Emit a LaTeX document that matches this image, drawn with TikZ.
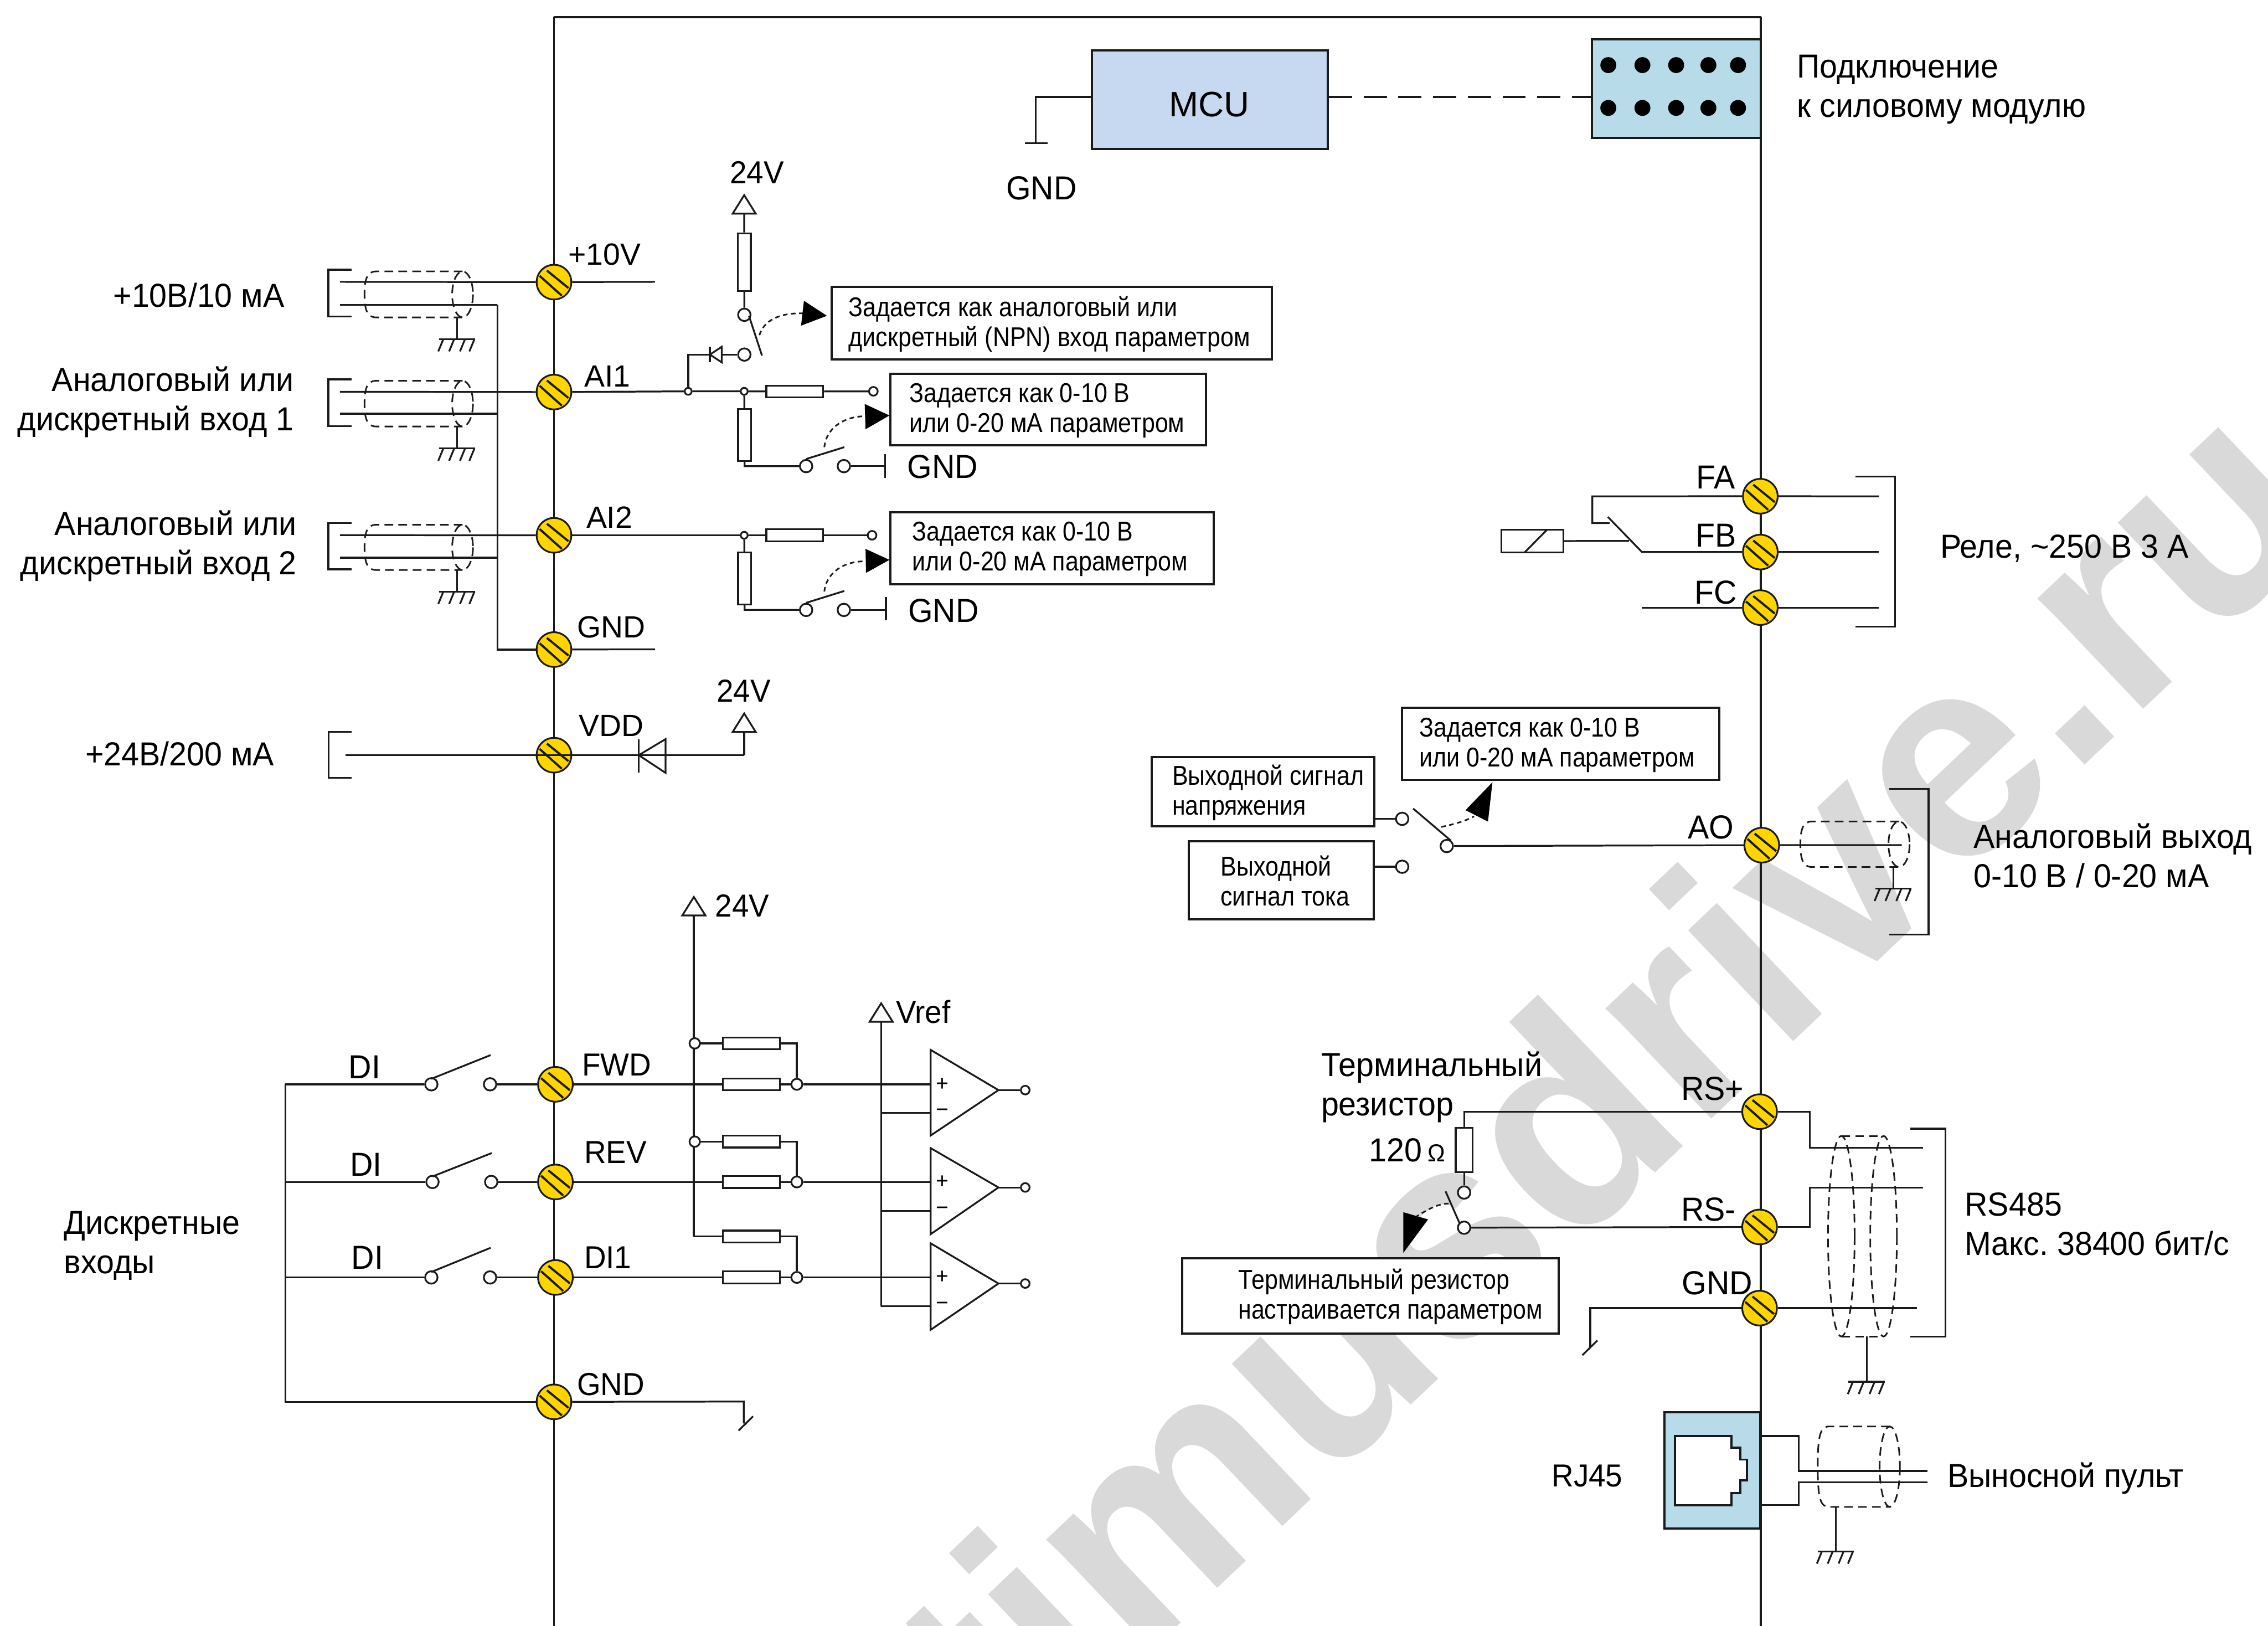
\documentclass[tikz,border=0pt]{standalone}
\usepackage{fontspec}
\setmainfont{Liberation Sans}
\newfontfamily\flab[FakeStretch=.955]{Liberation Sans}
\newfontfamily\fnote[FakeStretch=.875]{Liberation Sans}
\usetikzlibrary{calc}
\definecolor{ink}{HTML}{1A1A1A}
\definecolor{termy}{HTML}{FFD500}
\definecolor{mcublue}{HTML}{C6D9F1}
\definecolor{connblue}{HTML}{B7DBE8}
\definecolor{wmark}{HTML}{D9D9D9}
\pgfdeclarelayer{wm}
\pgfdeclarelayer{wires}
\pgfsetlayers{wm,wires,main}
\frenchspacing
\tikzset{
  wire/.style={draw=ink,line width=.62pt},
  boxline/.style={draw=ink,line width=.75pt},
  shield/.style={draw=ink,line width=.55pt,dash pattern=on 3pt off 1.8pt},
  ptrline/.style={draw=ink,line width=.55pt,dash pattern=on 1.6pt off 1.2pt},
  term/.style={circle,draw=ink,line width=.6pt,fill=termy,inner sep=0,minimum size=12pt,
    path picture={
      \draw[ink,line width=.75pt] ($(path picture bounding box.center)+(-4.9,-8)$)--($(path picture bounding box.center)+(10,4.1)$);
      \draw[ink,line width=.75pt] ($(path picture bounding box.center)+(-9.9,-4.3)$)--($(path picture bounding box.center)+(5.4,9.4)$);
    }},
  hole/.style={circle,draw=ink,line width=.6pt,fill=white,inner sep=0,minimum size=4.3pt},
  holes/.style={hole,minimum size=3pt},
  jct/.style={hole,minimum size=2.4pt},
  resh/.style={rectangle,draw=ink,line width=.6pt,fill=white,inner sep=0,minimum width=19.7pt,minimum height=4.1pt},
  resv/.style={rectangle,draw=ink,line width=.6pt,fill=white,inner sep=0,minimum width=4.5pt,minimum height=18pt},
  lab/.style={inner sep=0,font=\flab\fontsize{11.5}{13.6}\selectfont,text=black,align=left},
  tlab/.style={inner sep=0,font=\fontsize{10.6}{12}\selectfont,text=black},
  note/.style={boxline,fill=white,inner sep=0},
  notetext/.style={inner sep=0,align=left,font=\fnote\fontsize{9.4}{10.3}\selectfont,text=black},
  gnd/.pic={
    \draw[wire] (-12.5,0)--(12.5,0);
    \foreach \h in {-9.5,-2,5.5,12}{\draw[wire] (\h,0)--({\h-3.5},8.5);}
  },
  railtri/.pic={\draw[wire,fill=white] (-8,0)--(8,0)--(0,-12.8)--cycle;},
}
\newcommand{\hshield}[5]{% left, ellipse cx, rx, top, bottom
  \draw[shield] (#2,#4)--({#1+8},#4) .. controls ({#1+2},#4) and (#1,{#4+5}) .. (#1,{(#4+#5)/2})
     .. controls (#1,{#5-5}) and ({#1+2},#5) .. ({#1+8},#5)--(#2,#5);
  \draw[shield] (#2,{(#4+#5)/2}) ellipse [x radius=#3,y radius={(#5-#4)/2}];
}
\newcommand{\notebox}[7]{% name x0 y0 x1 y1 pad text
  \node[note,minimum width={(#4-#2)*.5pt},minimum height={(#5-#3)*.5pt}]
    (#1) at ({(#2+#4)/2},{(#3+#5)/2}) {};
  \node[notetext,anchor=west] (#1t) at ({#2+#6},{(#3+#5)/2+.6}) {#7};
}
\newcommand{\ptrarrow}[7]{% name start ctrl1 ctrl2 end, head (two other points)
  \coordinate (#1s) at (#2); \coordinate (#1e) at (#5);
  \draw[ptrline] (#1s) .. controls (#3) and (#4) .. (#1e);
  \fill[black] #6 -- cycle;
  #7
}
\begin{document}
\begin{tikzpicture}[x=.5pt,y=-.5pt]
\useasboundingbox (0,0) rectangle (1568,1123.8);
\begin{pgfonlayer}{wm}
  \clip (0,0) rectangle (1568,1123.8);
  \node[inner sep=0,anchor=base east,rotate=43.5,text=wmark,font=\bfseries\fontsize{100}{100}\selectfont] (wmtext) at (1617,362) {optimusdrive.ru};
\end{pgfonlayer}

% ---------- terminals
\foreach \n/\x/\y in {tTen/383/195,tAIa/383/271,tAIb/383/370,tGnda/383/449,tVdd/383/522,
   tFwd/384/749.5,tRev/384/817,tDia/384/883,tGndb/383/969,
   tFA/1217/343,tFB/1217/381.6,tFC/1217/420,tAO/1218/584.2,
   tRSp/1216.5/768.4,tRSm/1216.5/848.1,tGndc/1216.5/904.2}
  {\node[term] (\n) at (\x,\y) {};}

\begin{pgfonlayer}{wires}
  \coordinate (frBL) at (383,1124); \coordinate (frTL) at (383,12);
  \coordinate (frTR) at (1217.3,12); \coordinate (frBR) at (1217.3,1124);
  \draw[wire] (frBL)--(frTL)--(frTR)--(frBR);
  \draw[wire,line width=.8pt] (frTL)--(frTR);
\end{pgfonlayer}

% ---------- MCU and connector
\node[boxline,fill=mcublue,minimum width=81.5pt,minimum height=34pt,inner sep=0] (mcu) at (836.5,69) {};
\node[inner sep=0,font=\fontsize{12.2}{14}\selectfont] (lMcu) at (836,72) {MCU};
\node[boxline,fill=connblue,minimum width=58.4pt,minimum height=34pt,inner sep=0] (conn) at (1158.9,61.2) {};
\foreach \x [count=\i] in {1111.9,1135.5,1158.8,1181.1,1201.6}{
  \node[circle,fill=black,inner sep=0,minimum size=5.5pt] (dotA\i) at (\x,45) {};
  \node[circle,fill=black,inner sep=0,minimum size=5.5pt] (dotB\i) at (\x,74.6) {};
}
\coordinate (mcuGnd) at (716,99);
\coordinate (mcuBarL) at (708.7,99); \coordinate (mcuBarR) at (724.2,99);
\begin{pgfonlayer}{wires}
  \draw[wire] (mcu.west|-0,67) -| (mcuGnd);
  \draw[wire] (mcuBarL)--(mcuBarR);
  \draw[wire,dash pattern=on 8pt off 4pt] (mcu.east|-0,67)--(conn.west|-0,67);
\end{pgfonlayer}
\node[lab] (lGndM) at (720,130) {GND};
\node[lab,anchor=west] (lConn) at (1242,62) {Подключение\\к силовому модулю};

% ---------- left cables
\node[lab,anchor=east,align=right] (l10) at (197,204) {+10В/10 мА};
\node[lab,anchor=east,align=right] (lA1) at (203.5,278) {Аналоговый или\\дискретный вход 1};
\node[lab,anchor=east,align=right] (lA2) at (205.5,377.5) {Аналоговый или\\дискретный вход 2};
\node[lab,anchor=east,align=right] (l24) at (190,521) {+24В/200 мА};

\begin{pgfonlayer}{wires}
  % +10V cable
  \foreach \n/\ty/\w/\bt/\bb/\st/\sb/\gy in {a/194.8/210.6/186.4/218.7/187.6/219.4/234.4,
                                        b/270.8/286/262.2/294.5/263.2/294.8/310,
                                        c/369.9/385.5/361.5/393.5/362.7/394/409}{
    \draw[wire] (243,\bt)--(227,\bt)--(227,\bb)--(243,\bb);
    \coordinate (cw\n) at (235,\ty);
    \coordinate (cr\n) at (343.9,\w);
    \coordinate (cl\n) at (235,\w);
    \draw[wire] (cl\n)--(cr\n);
    \hshield{252}{319.8}{7.2}{\st}{\sb}
    \draw[wire] (316,\sb)--(316,\gy);
    \pic at (316,\gy) {gnd};
  }
  \draw[wire] (cwa)--(tTen);
  \draw[wire] (cwb)--(tAIa);
  \draw[wire] (cwc)--(tAIb);
  \draw[wire] (cra)--(tGnda.west-|cra)--(tGnda);
  \coordinate (r10) at (452.8,194.8); \coordinate (rGn) at (452.8,448.8);
  \draw[wire] (tTen)--(r10);
  \draw[wire] (tGnda)--(rGn);
\end{pgfonlayer}
\node[tlab,anchor=west] (lTen) at (392.5,176) {+10V};
\node[tlab,anchor=west] (lAIa) at (403.5,260) {AI1};
\node[tlab,anchor=west] (lAIb) at (405,357.5) {AI2};
\node[tlab,anchor=west] (lGnda) at (398.5,433.5) {GND};

% ---------- AI1 input network
\node[jct] (jAa) at (475.8,270.5) {};
\node[jct] (jAb) at (514.5,270.5) {};
\node[resh] (rAh) at (549.5,270.6) {};
\node[holes] (hAh) at (603.8,270.5) {};
\node[resv] (rAv) at (514.8,300.7) {};
\node[hole] (hAs) at (557.3,322.2) {};
\node[hole] (hAg) at (583.4,322.2) {};
\coordinate (gAg) at (611.9,322.2);
\coordinate (gAgT) at (611.9,314); \coordinate (gAgB) at (611.9,330.3);
% selector 24V
\node[resv,minimum height=20pt] (rSel) at (514.6,181.2) {};
\node[hole] (hSelT) at (514.6,217.6) {};
\node[hole] (hSelB) at (514.6,245.1) {};
\coordinate (railSel) at (514.5,147.7);
\coordinate (dSelA) at (490.8,245.1);
\coordinate (dSelB) at (499,245.1);
\coordinate (selCorner) at (475.8,245.1);
\coordinate (bladeA) at (517.8,218.3);
\coordinate (bladeB) at (526.8,245.8);
\begin{pgfonlayer}{wires}
  \draw[wire] (tAIa)--(jAa)--(jAb)--(rAh)--(hAh);
  \draw[wire] (jAb)--(rAv)--(rAv.south)|-(hAs);
  \draw[wire] (hAg)--(gAg);
  \draw[wire] (gAgT)--(gAgB);
  \draw[wire] (jAa)--(selCorner)--(dSelA)--(hSelB);
  \draw[wire] (railSel)--(rSel)--(hSelT);
\end{pgfonlayer}
\draw[wire] (bladeA)--(bladeB);
\draw[wire] (hAs.north)--(583.7,309.1);
\draw[wire,fill=white] (dSelA)--(499,239.7)--(499,250.5)--cycle;
\draw[wire] (490.8,239.7)--(490.8,250.5);
\pic at (railSel) {railtri};
\node[lab,font=\flab\fontsize{11}{13}\selectfont] (l24a) at (523.3,119.3) {24V};
\node[tlab,font=\flab\fontsize{11.5}{13}\selectfont,anchor=west] (lGndA) at (626.9,322.5) {GND};
\notebox{noteSel}{575}{198.4}{879.4}{248.3}{11.4}{Задается как аналоговый или\\дискретный (NPN) вход параметром}
\notebox{noteA}{615.5}{258.5}{833.9}{307.9}{12.8}{Задается как 0-10 В\\или 0-20 мА параметром}
\ptrarrow{pSel}{525,231.7}{528,222}{538,216}{555.8,216.6}{(555.8,207.9)--(571.7,218.3)--(553.8,225.1)}{}
\ptrarrow{pA}{569.9,309.1}{571,297}{582,288}{597.8,287.7}{(597.8,279.2)--(614.9,287.2)--(598.4,296.7)}{}

% ---------- AI2 input network
\node[jct] (jBb) at (514.5,370) {};
\node[resh] (rBh) at (549.5,370) {};
\node[holes] (hBh) at (602.9,370) {};
\node[resv] (rBv) at (514.8,399.9) {};
\node[hole] (hBs) at (557.3,421.6) {};
\node[hole] (hBg) at (583.4,421.6) {};
\coordinate (gBg) at (612.5,421.6);
\coordinate (gBgT) at (612.5,412.6); \coordinate (gBgB) at (612.5,428.9);
\begin{pgfonlayer}{wires}
  \draw[wire] (tAIb)--(jBb)--(rBh)--(hBh);
  \draw[wire] (jBb)--(rBv)--(rBv.south)|-(hBs);
  \draw[wire] (hBg)--(gBg);
  \draw[wire] (gBgT)--(gBgB);
\end{pgfonlayer}
\draw[wire] (hBs.north)--(583.7,408.5);
\node[tlab,font=\flab\fontsize{11.5}{13}\selectfont,anchor=west] (lGndB) at (627.5,422) {GND};
\notebox{noteB}{615.5}{354.1}{839}{403.8}{14.9}{Задается как 0-10 В\\или 0-20 мА параметром}
\ptrarrow{pB}{569.9,408.9}{571,397}{582,388}{597.8,388}{(598.4,379.4)--(614.9,387)--(598.7,396)}{}

% ---------- VDD
\coordinate (vddW) at (238.9,522);
\coordinate (vddD) at (441.6,522);
\coordinate (vddC) at (514.5,522);
\coordinate (rail24b) at (514.5,506);
\begin{pgfonlayer}{wires}
  \draw[wire] (243,505.8)--(227.1,505.8)--(227.1,537.8)--(243,537.8);
  \draw[wire] (vddW)--(tVdd);
  \draw[wire] (vddC)--(rail24b);
\end{pgfonlayer}
\draw[wire] (tVdd.center)--(vddC);
\draw[wire] (441.6,510.9)--(441.6,534.2);
\draw[wire] (460.1,510.9)--(vddD)--(460.1,534.2)--cycle;
\draw[wire] (vddD)--(vddC);
\draw[wire] (tVdd.west)--(tVdd.center);
\pic at (rail24b) {railtri};
\node[tlab,anchor=west] (lVdd) at (399.8,501.5) {VDD};
\node[lab,font=\flab\fontsize{11}{13}\selectfont,anchor=west] (l24b) at (495,477.6) {24V};

% ---------- digital inputs
\node[lab,anchor=west] (lDis) at (44,861) {Дискретные\\входы};
\coordinate (diTop) at (197.2,749.5);
\coordinate (diBot) at (197.2,969);
\begin{pgfonlayer}{wires}
  \draw[wire] (diTop)--(diBot)--(tGndb);
\end{pgfonlayer}
\foreach \n/\y/\lx/\ly/\term/\by/\sx in {a/749.5/252/737.7/tFwd/729.3/298.2,
                                    b/817/253/804.8/tRev/797/299,
                                    c/883/254/869.3/tDia/862.5/298.2}{
  \node[hole] (hDiL\n) at (\sx,\y) {};
  \node[hole] (hDiR\n) at ({\sx+40.6},\y) {};
  \node[tlab,font=\flab\fontsize{11.5}{13}\selectfont] (lDi\n) at (\lx,\ly) {DI};
  \coordinate (diW\n) at (197.2,\y);
  \draw[wire] (\sx,{\y-3.8})--({\sx+41},\by);
  \begin{pgfonlayer}{wires}
    \draw[wire] (diW\n)--(hDiL\n);
    \draw[wire] (hDiR\n)--(\term);
  \end{pgfonlayer}
}
\node[tlab,font=\flab\fontsize{11}{13}\selectfont,anchor=west] (lFwd) at (402,736) {FWD};
\node[tlab,font=\flab\fontsize{11}{13}\selectfont,anchor=west] (lRev) at (403.5,796.5) {REV};
\node[tlab,font=\flab\fontsize{11}{13}\selectfont,anchor=west] (lDia) at (403.5,869.3) {DI1};
\node[tlab,font=\flab\fontsize{11}{13}\selectfont,anchor=west] (lGndb) at (398.5,957) {GND};
\coordinate (gb1) at (514.2,968.8);
\coordinate (gb2) at (514.2,984);
\begin{pgfonlayer}{wires}
  \draw[wire] (tGndb)--(gb1)--(gb2);
  \draw[wire] (520.6,979)--(510.6,988.9);
\end{pgfonlayer}

% rails
\coordinate (rail24c) at (479.7,632.8);
\coordinate (railVr) at (609.2,706.3);
\coordinate (rail24cEnd) at (479.7,854.8);
\coordinate (railVrEnd) at (609.2,902.9);
\begin{pgfonlayer}{wires}
  \draw[wire] (rail24c)--(rail24cEnd);
  \draw[wire] (railVr)--(railVrEnd);
\end{pgfonlayer}
\pic at (rail24c) {railtri};
\pic at (railVr) {railtri};
\node[lab,font=\flab\fontsize{11}{13}\selectfont,anchor=west] (l24c) at (494,626) {24V};
\node[lab,font=\flab\fontsize{11}{13}\selectfont,anchor=west] (lVr) at (619,699.4) {Vref};
\foreach \n/\yu/\yl/\neg/\top/\bot/\ap/\term in {a/721.2/749.5/769.2/725.7/784.9/753.5/tFwd,
                                         b/789.1/817/837.1/793.6/853.1/820.8/tRev,
                                         c/854.7/883/902.9/859.4/919.2/887.2/tDia}{
  \node[resh] (rU\n) at (519.5,\yu) {};
  \node[resh] (rL\n) at (519.5,\yl) {};
  \node[hole,minimum size=3.8pt] (hQ\n) at (550.9,\yl) {};
  \node[holes] (hOut\n) at (708.8,\ap) {};
  \coordinate (opP\n) at (643.4,\yl);
  \coordinate (opN\n) at (643.4,\neg);
  \coordinate (vrN\n) at (609.2,\neg);
  \coordinate (opA\n) at (690.3,\ap);
  \coordinate (rU\n e) at (550.9,\yu);
  \coordinate (r24\n) at (479.7,\yu);
  \begin{pgfonlayer}{wires}
    \draw[wire] (\term)--(rL\n)--(hQ\n)--(opP\n);
    \draw[wire] (vrN\n)--(opN\n);
    \draw[wire] (opA\n)--(hOut\n);
    \draw[wire] (r24\n)--(rU\n)--(rU\n e)--(hQ\n);
  \end{pgfonlayer}
  \draw[wire,fill=white] (643.4,\top)--(opA\n)--(643.4,\bot)--cycle;
  \node[inner sep=0,font=\fontsize{7.5}{8}\selectfont] (pl\n) at (651.5,\yl) {+};
  \node[inner sep=0,font=\fontsize{7.5}{8}\selectfont] (mn\n) at (651.5,\neg) {−};
}
\node[hole,minimum size=3.6pt] (jR24a) at (480.3,721.2) {};
\node[hole,minimum size=3.6pt] (jR24b) at (480.3,789.1) {};

% ---------- relay
\node[tlab,font=\flab\fontsize{11.5}{13}\selectfont] (lFA) at (1186.3,330) {FA};
\node[tlab,font=\flab\fontsize{11.5}{13}\selectfont] (lFB) at (1186.3,370) {FB};
\node[tlab,font=\flab\fontsize{11.5}{13}\selectfont] (lFC) at (1186.3,409.4) {FC};
\node[lab,anchor=west] (lRel) at (1341,379) {Реле, \textasciitilde250 В 3 А};
\node[rectangle,draw=ink,line width=.6pt,inner sep=0,minimum width=21.3pt,minimum height=8pt] (coil) at (1059.4,374) {};
\coordinate (faC) at (1100.9,343.1);
\coordinate (faD) at (1100.9,361.6);
\coordinate (faE) at (1112.8,361.6);
\coordinate (bl1) at (1111.6,357.3);
\coordinate (bl2) at (1135.2,381.6);
\coordinate (blM) at (1126.2,373.9);
\coordinate (fcL) at (1135.2,420);
\coordinate (faR) at (1298.8,343.1);
\coordinate (fbR) at (1298.8,381.6);
\coordinate (fcR) at (1298.8,420);
\begin{pgfonlayer}{wires}
  \draw[wire] (tFA)--(faC)--(faD)--(faE);
  \draw[wire] (bl1)--(bl2)--(tFB)--(fbR);
  \draw[wire] (coil)--(blM);
  \draw[wire] (fcL)--(tFC)--(fcR);
  \draw[wire] (tFA)--(faR);
  \draw[wire] (1282.7,329.4)--(1310.2,329.4)--(1310.2,433.2)--(1282.7,433.2);
\end{pgfonlayer}
\draw[wire] (1053.9,382)--(1069.7,366);

% ---------- analog output
\notebox{noteAO}{969.4}{489.4}{1188.5}{539.2}{11.6}{Задается как 0-10 В\\или 0-20 мА параметром}
\notebox{noteV}{796.3}{523.3}{950}{571.3}{13.8}{Выходной сигнал\\напряжения}
\notebox{noteI}{821.9}{581.4}{949.7}{635.3}{21.6}{Выходной\\сигнал тока}
\node[hole] (hV) at (969.4,566) {};
\node[hole] (hI) at (969.4,599.1) {};
\node[hole] (hAO) at (1000.2,584.8) {};
\coordinate (aoEnd) at (1314.8,584.2);
\begin{pgfonlayer}{wires}
  \draw[wire] (noteV.east|-hV)--(hV);
  \draw[wire] (noteI.east|-hI)--(hI);
  \draw[wire] (hAO)--(tAO)--(aoEnd);
  \hshield{1244.7}{1312.9}{7.3}{567.8}{599.3}
  \draw[wire] (1309,599.3)--(1309,614.3);
  \pic at (1309,614.3) {gnd};
  \draw[wire] (1306.3,545.4)--(1333.3,545.4)--(1333.3,646)--(1306.3,646);
\end{pgfonlayer}
\draw[wire] (977,558.9)--(1003.1,581.1);
\ptrarrow{pAO}{996.4,571.6}{1004,570}{1012,568}{1019.1,564.3}{(1031.8,540.7)--(1013.2,560)--(1028.7,567.9)}{}
\node[tlab,font=\flab\fontsize{11.5}{13}\selectfont,anchor=east] (lAO) at (1199,572) {AO};
\node[lab,anchor=west] (lAOr) at (1364,591.5) {Аналоговый выход\\0-10 В / 0-20 мА};

% ---------- RS485
\node[resv,minimum width=5.8pt,minimum height=15.3pt] (rT) at (1012.2,794.8) {};
\node[hole] (hTt) at (1012.2,824.3) {};
\node[hole] (hTb) at (1012.2,848.6) {};
\coordinate (rsC) at (1012.2,768.4);
\coordinate (rsPb) at (1251.3,768.4);
\coordinate (rsPc) at (1251.3,793.3);
\coordinate (rsPe) at (1329.6,793.3);
\coordinate (rsMb) at (1251.3,848.1);
\coordinate (rsMc) at (1251.3,820.9);
\coordinate (rsMe) at (1329.6,820.9);
\coordinate (rsG1) at (1099.4,904.2);
\coordinate (rsG2) at (1099.4,931);
\coordinate (rsGe) at (1325.3,904.2);
\begin{pgfonlayer}{wires}
  \draw[wire] (tRSp)--(rsC)--(rT)--(hTt);
  \draw[wire] (hTb)--(tRSm);
  \draw[wire] (tRSp)--(rsPb)--(rsPc)--(rsPe);
  \draw[wire] (tRSm)--(rsMb)--(rsMc)--(rsMe);
  \draw[wire] (rsG2)--(rsG1)--(tGndc)--(rsGe);
  \draw[wire] (1104.4,926.5)--(1094,936.7);
  \draw[wire] (1320.7,780.2)--(1345,780.2)--(1345,923.9)--(1320.7,923.9);
  \draw[shield] (1273,854.5) ellipse [x radius=9.2,y radius=69.3];
  \draw[shield] (1302.2,854.5) ellipse [x radius=9.2,y radius=69.3];
  \draw[shield] (1273,785.2)--(1302.2,785.2);
  \draw[shield] (1273,923.8)--(1302.2,923.8);
  \draw[wire] (1290.5,923.8)--(1290.5,955.1);
  \pic at (1290.5,955.1) {gnd};
\end{pgfonlayer}
\draw[wire] (999.4,823.5)--(1009.4,846.3);
\ptrarrow{pT}{1001.5,831.9}{994,832}{987,836}{979.1,841}{(970.2,837.9)--(987.3,842.9)--(970.2,866)}{}
\notebox{noteT}{817.2}{869.9}{1077.7}{921.8}{38.5}{Терминальный резистор\\настраивается параметром}
\node[lab,anchor=west] (lTerm) at (913,751.5) {Терминальный\\резистор};
\node[lab,anchor=east] (lOhm) at (999.5,795.2) {120\,{\fontsize{8.5}{10}\selectfont Ω}};
\node[tlab,font=\flab\fontsize{11.5}{13}\selectfont,anchor=east] (lRSp) at (1206,752.7) {RS+};
\node[tlab,font=\flab\fontsize{11.5}{13}\selectfont,anchor=east] (lRSm) at (1200.5,835.8) {RS-};
\node[tlab,font=\flab\fontsize{11.5}{13}\selectfont,anchor=east] (lGndc) at (1212,887) {GND};
\node[lab,anchor=west] (lRS) at (1358,846) {RS485\\Макс. 38400 бит/с};

% ---------- RJ45
\node[boxline,fill=connblue,minimum width=33.1pt,minimum height=40.2pt,inner sep=0] (rj) at (1183.7,1016.3) {};
\draw[wire,line width=.75pt,fill=white] (1158.1,992.6)--(1197,992.6)--(1197,1000.5)--(1203.3,1000.5)--(1203.3,1008.9)--(1207.6,1008.9)--(1207.6,1023.3)--(1203.3,1023.3)--(1203.3,1031.9)--(1197,1031.9)--(1197,1040.3)--(1158.1,1040.3)--cycle;
\node[lab,font=\flab\fontsize{11}{13}\selectfont] (lRJ) at (1097.3,1020.1) {RJ45};
\node[lab,anchor=west] (lPult) at (1346,1022) {Выносной пульт};
\coordinate (rjA) at (1216.8,992.6); \coordinate (rjB) at (1243.5,992.6); \coordinate (rjC) at (1243.5,1016.7); \coordinate (rjD) at (1332.4,1016.7);
\coordinate (rjE) at (1216.8,1040.3); \coordinate (rjF) at (1243.5,1040.3); \coordinate (rjG) at (1243.5,1024.6); \coordinate (rjH) at (1332.4,1024.6);
\begin{pgfonlayer}{wires}
  \draw[wire] (rjA)--(rjB)--(rjC)--(rjD);
  \draw[wire] (rjE)--(rjF)--(rjG)--(rjH);
  \hshield{1256.7}{1306.5}{7}{986}{1041.6}
  \draw[wire] (1269.1,1041.6)--(1269.1,1072.3);
  \pic at (1269.1,1072.3) {gnd};
\end{pgfonlayer}
\end{tikzpicture}
\end{document}
